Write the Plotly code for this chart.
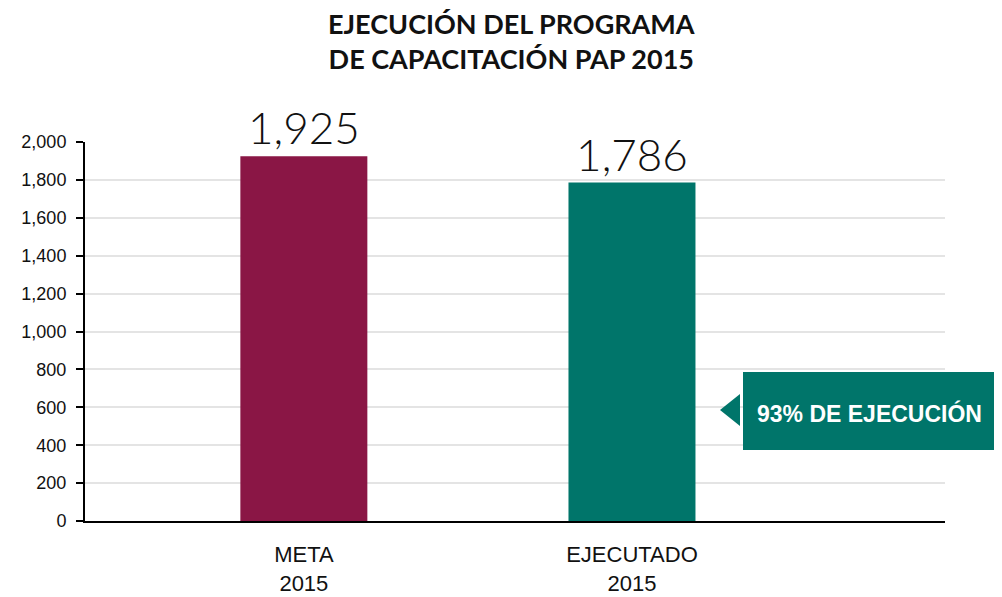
import plotly.graph_objects as go

# datos
categorias = ["META<br>2015", "EJECUTADO<br>2015"]
valores = [1925, 1786]
etiquetas = ["1,925", "1,786"]
colores = ["#8A1645", "#00756A"]
porcentaje = "93% DE EJECUCIÓN"
titulo = "<b>EJECUCIÓN DEL PROGRAMA<br>DE CAPACITACIÓN PAP 2015</b>"

# la página tiene 8px de margen en el body
OFF = 8
W, H = 1002 - OFF, 597 - OFF
X0, X1, Y0, Y1 = 85, 945, 142, 521   # área del gráfico en la imagen
L, R, T, B = X0 - OFF, W - (X1 - OFF), Y0 - OFF, H - (Y1 - OFF)

fig = go.Figure()
fig.add_trace(go.Bar(
    x=[0, 1], y=valores,
    marker=dict(color=colores, line=dict(width=0)),
    width=0.387,
    text=etiquetas, textposition="outside",
    textfont=dict(family="Lato", size=44, color="#111111", weight=300),
    cliponaxis=False,
))

fig.update_layout(
    width=W, height=H,
    margin=dict(l=L, r=R, t=T, b=B, autoexpand=False),
    plot_bgcolor="white", paper_bgcolor="white",
    showlegend=False,
    xaxis=dict(
        range=[-0.667, 1.954], tickvals=[0, 1], ticktext=categorias,
        showline=True, linecolor="black", linewidth=2, automargin=False,
        showgrid=False, ticks="", zeroline=False, ticklabelstandoff=13,
        tickfont=dict(family="Liberation Sans", size=22, color="#111111"),
    ),
    yaxis=dict(
        range=[0, 2000], tickvals=list(range(0, 2001, 200)), tickformat=",",
        showline=True, linecolor="black", linewidth=2, automargin=False,
        ticks="outside", ticklen=7, tickwidth=2, tickcolor="black",
        ticklabelstandoff=6,
        showgrid=True, gridcolor="#e4e4e4", gridwidth=2, zeroline=False,
        tickfont=dict(family="Liberation Sans", size=18, color="#111111"),
    ),
    font=dict(family="Liberation Sans"),
)

def px(x):
    return (x - X0) / (X1 - X0)

def py(y):
    return (Y1 - y) / (Y1 - Y0)

# título
fig.add_annotation(xref="paper", yref="paper", x=px(511), y=py(41),
                   xanchor="center", yanchor="middle", showarrow=False,
                   text=titulo,
                   font=dict(family="Lato", size=27, color="#111111"))

# recuadro del porcentaje
fig.add_shape(type="rect", xref="paper", yref="paper",
              x0=px(743), x1=px(1010), y0=py(450), y1=py(372),
              fillcolor="#00756A", line=dict(width=0), layer="above")
fig.add_shape(type="path", xref="paper", yref="paper",
              path=f"M {px(720)} {py(410)} L {px(740)} {py(394)} L {px(740)} {py(426)} Z",
              fillcolor="#00756A", line=dict(width=0), layer="above")
fig.add_annotation(xref="paper", yref="paper", x=px(869), y=py(413),
                   xanchor="center", yanchor="middle",
                   text=f"<b>{porcentaje}</b>", showarrow=False,
                   font=dict(family="Liberation Sans", size=23, color="white"))

fig.write_html("out.html")
